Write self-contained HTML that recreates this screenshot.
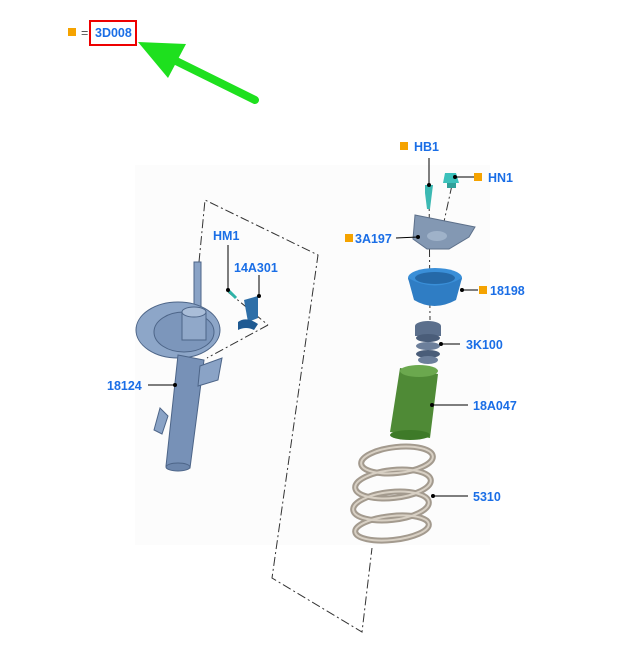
<!DOCTYPE html>
<html><head><style>
html,body{margin:0;padding:0;background:#fff;}
svg{display:block}
text{font-family:"Liberation Sans",Arial,sans-serif;font-weight:bold;font-size:12.5px;fill:#1a6ee6}
</style></head><body>
<svg width="627" height="663" viewBox="0 0 627 663" xmlns="http://www.w3.org/2000/svg">
<rect x="0" y="0" width="627" height="663" fill="#fff"/>
<rect x="135" y="165" width="355" height="380" fill="#fcfcfc"/>
<!-- legend -->
<rect x="68" y="28" width="8" height="8" fill="#f5a300"/>
<text x="81" y="37" style="fill:#555;font-weight:normal">=</text>
<rect x="90" y="21" width="46" height="24" fill="none" stroke="#e00" stroke-width="2"/>
<text x="95" y="37">3D008</text>
<!-- green arrow -->
<line x1="255" y1="100" x2="168" y2="57" stroke="#1ee01e" stroke-width="8" stroke-linecap="round"/>
<polygon points="138,42 186,44 168,78" fill="#1ee01e"/>
<!-- dash-dot frame -->
<g stroke="#333" stroke-width="1" fill="none" stroke-dasharray="9,3,2,3">
<polyline points="199,262 205,200 318,255 272,578 362,632 372,548"/>
<line x1="268" y1="325" x2="207" y2="358"/>
<line x1="228" y1="292" x2="268" y2="325"/>
<line x1="429" y1="180" x2="430" y2="320"/>
<line x1="452" y1="185" x2="440" y2="240"/>
</g>
<!-- strut -->
<g fill="#7590b5" stroke="#4d6588" stroke-width="1">
<rect x="194" y="262" width="7" height="60" fill="#8aa3c6"/>
<ellipse cx="178" cy="330" rx="42" ry="28" fill="#8da6c8"/>
<ellipse cx="184" cy="332" rx="30" ry="20" fill="#7c96bb"/>
<rect x="182" y="312" width="24" height="28" fill="#90a8c9"/>
<ellipse cx="194" cy="312" rx="12" ry="5" fill="#a9bdd8"/>
<polygon points="178,355 204,360 190,468 166,466" fill="#7791b7"/>
<polygon points="200,366 222,358 218,380 198,386" fill="#8aa3c6"/>
<path d="M160 408 l-6 22 8 4 6 -18z" fill="#8aa3c6"/>
<ellipse cx="178" cy="467" rx="12" ry="4" fill="#6c86ac"/>
</g>
<!-- bracket 14A301 -->
<polygon points="244,300 258,296 258,318 248,322" fill="#2e6fa8"/>
<path d="M238 322 q8 -6 20 2 l-4 6 q-8 -4 -16 0z" fill="#1f5a92"/>
<line x1="228" y1="290" x2="236" y2="298" stroke="#2fb3a8" stroke-width="3"/>
<!-- HB1/HN1 -->
<path d="M425 185 l8 0 -1 8 -2 16 -3 0 -2 -16z" fill="#3cb9b3"/>
<path d="M445 173 l11 0 3 10 -16 0z" fill="#3cc1bb"/>
<rect x="447" y="183" width="9" height="5" fill="#2fa09a"/>
<!-- 3A197 -->
<path d="M415 215 l60 12 -6 10 -20 12 -22 0 -14 -10z" fill="#8398b3" stroke="#5d708a"/>
<ellipse cx="437" cy="236" rx="10" ry="5" fill="#9fb2c9"/>
<!-- 18198 -->
<ellipse cx="435" cy="278" rx="27" ry="10" fill="#3a8fd8"/>
<path d="M408 278 l6 22 q20 12 42 0 l6 -22 q-27 15 -54 0z" fill="#2f7dc4"/>
<ellipse cx="435" cy="278" rx="20" ry="6" fill="#2569a8"/>
<!-- 3K100 -->
<g fill="#5b6f8c">
<ellipse cx="428" cy="326" rx="13" ry="5"/>
<rect x="415" y="326" width="26" height="10"/>
<ellipse cx="428" cy="338" rx="12" ry="4" fill="#4a5d79"/>
<ellipse cx="428" cy="346" rx="12" ry="4" fill="#6c7f9b"/>
<ellipse cx="428" cy="354" rx="12" ry="4" fill="#4a5d79"/>
<ellipse cx="428" cy="360" rx="10" ry="4" fill="#6c7f9b"/>
</g>
<!-- 18A047 -->
<polygon points="400,368 438,374 430,438 390,432" fill="#4f8a36"/>
<ellipse cx="419" cy="371" rx="19" ry="6" fill="#6ba84e"/>
<ellipse cx="410" cy="435" rx="20" ry="5" fill="#3e7a28"/>
<!-- spring 5310 -->
<g fill="none" stroke="#a39a8e" stroke-width="6">
<ellipse cx="397" cy="460" rx="36" ry="13" transform="rotate(-6 397 460)"/>
<ellipse cx="393" cy="484" rx="38" ry="14" transform="rotate(-6 393 484)"/>
<ellipse cx="391" cy="506" rx="38" ry="14" transform="rotate(-6 391 506)"/>
<ellipse cx="392" cy="528" rx="37" ry="12" transform="rotate(-6 392 528)"/>
</g>
<g fill="none" stroke="#d8d0c4" stroke-width="2">
<ellipse cx="397" cy="460" rx="36" ry="13" transform="rotate(-6 397 460)"/>
<ellipse cx="393" cy="484" rx="38" ry="14" transform="rotate(-6 393 484)"/>
<ellipse cx="391" cy="506" rx="38" ry="14" transform="rotate(-6 391 506)"/>
<ellipse cx="392" cy="528" rx="37" ry="12" transform="rotate(-6 392 528)"/>
</g>
<!-- leader lines -->
<g stroke="#000" stroke-width="1">
<line x1="148" y1="385" x2="175" y2="385"/>
<line x1="228" y1="245" x2="228" y2="290"/>
<line x1="259" y1="275" x2="259" y2="296"/>
<line x1="429" y1="158" x2="429" y2="185"/>
<line x1="455" y1="177" x2="475" y2="177"/>
<line x1="396" y1="238" x2="418" y2="237"/>
<line x1="462" y1="290" x2="478" y2="290"/>
<line x1="441" y1="344" x2="460" y2="344"/>
<line x1="432" y1="405" x2="468" y2="405"/>
<line x1="433" y1="496" x2="468" y2="496"/>
</g>
<g fill="#000">
<circle cx="175" cy="385" r="2"/><circle cx="228" cy="290" r="2"/><circle cx="259" cy="296" r="2"/>
<circle cx="429" cy="185" r="2"/><circle cx="455" cy="177" r="2"/><circle cx="418" cy="237" r="2"/>
<circle cx="462" cy="290" r="2"/><circle cx="441" cy="344" r="2"/><circle cx="432" cy="405" r="2"/><circle cx="433" cy="496" r="2"/>
</g>
<!-- labels -->
<text x="107" y="390">18124</text>
<text x="213" y="240">HM1</text>
<text x="234" y="272">14A301</text>
<rect x="400" y="142" width="8" height="8" fill="#f5a300"/><text x="414" y="151">HB1</text>
<rect x="474" y="173" width="8" height="8" fill="#f5a300"/><text x="488" y="182">HN1</text>
<rect x="345" y="234" width="8" height="8" fill="#f5a300"/><text x="355" y="243">3A197</text>
<rect x="479" y="286" width="8" height="8" fill="#f5a300"/><text x="490" y="295">18198</text>
<text x="466" y="349">3K100</text>
<text x="473" y="410">18A047</text>
<text x="473" y="501">5310</text>
</svg>
</body></html>
